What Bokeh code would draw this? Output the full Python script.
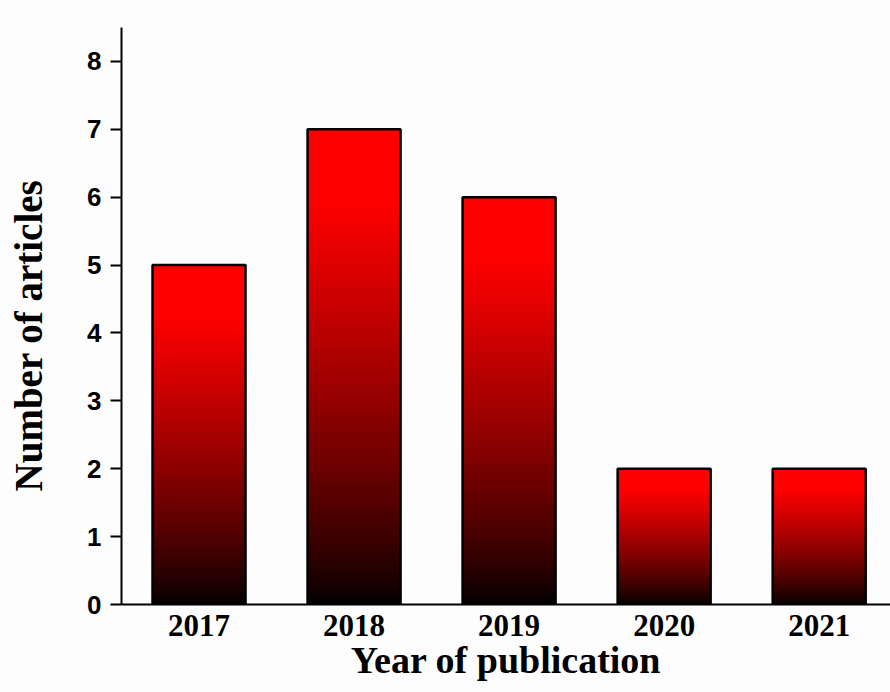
from bokeh.plotting import figure
from bokeh.models import Range1d, FixedTicker
from bokeh.embed import file_html
from bokeh.resources import INLINE

# Data
years = ["2017", "2018", "2019", "2020", "2021"]
articles = [5, 7, 6, 2, 2]
y_ticks = [0, 1, 2, 3, 4, 5, 6, 7, 8]

x_pos = list(range(len(years)))
BAR_W = 0.6
N_SLICES = 140

p = figure(width=890, height=692, output_backend="svg", toolbar_location=None,
           x_range=Range1d(-0.5, 4.46), y_range=Range1d(0, 8.5),
           min_border_left=121, min_border_top=27, min_border_bottom=88,
           min_border_right=0)
p.background_fill_color = "#FDFDFD"
p.border_fill_color = "#FDFDFD"
p.outline_line_color = None
p.xgrid.visible = False
p.ygrid.visible = False

# gradient fill: each slice from its start to bar top, drawn bottom-up (no seams)
xs, bots, tops, cols = [], [], [], []
for xi, v in zip(x_pos, articles):
    for k in range(N_SLICES):
        f = (k + 0.5) / N_SLICES
        r = int(round(255 * min(1.0, f / 0.85) ** 0.8))
        xs.append(xi)
        bots.append(v * k / N_SLICES)
        tops.append(v)
        cols.append("#%02x0000" % r)
p.vbar(x=xs, bottom=bots, top=tops, width=BAR_W, fill_color=cols, line_color=None)
p.vbar(x=x_pos, bottom=0, top=articles, width=BAR_W, fill_color=None,
       line_color="black", line_width=2.5)

# x axis
xa = p.xaxis[0]
xa.ticker = FixedTicker(ticks=x_pos)
xa.major_label_overrides = {i: y for i, y in zip(x_pos, years)}
xa.major_tick_line_color = None
xa.major_tick_out = 0
xa.major_tick_in = 0
xa.minor_tick_line_color = None
xa.axis_line_width = 2
xa.axis_line_color = "black"
xa.major_label_text_font = "Liberation Serif"
xa.major_label_text_font_style = "bold"
xa.major_label_text_font_size = "31px"
xa.major_label_text_color = "black"
xa.major_label_standoff = 10
xa.axis_label = "Year of publication"
xa.axis_label_text_font = "Liberation Serif"
xa.axis_label_text_font_style = "bold"
xa.axis_label_text_font_size = "38px"
xa.axis_label_text_color = "black"
xa.axis_label_standoff = 0

# y axis
ya = p.yaxis[0]
ya.ticker = FixedTicker(ticks=y_ticks)
ya.major_tick_out = 11
ya.major_tick_in = 0
ya.major_tick_line_width = 2
ya.minor_tick_line_color = None
ya.axis_line_width = 2
ya.axis_line_color = "black"
ya.major_label_text_font = "Liberation Sans"
ya.major_label_text_font_style = "bold"
ya.major_label_text_font_size = "26px"
ya.major_label_text_color = "black"
ya.major_label_standoff = 9
ya.axis_label = "Number of articles\u00a0\u00a0\u00a0\u00a0"
ya.axis_label_text_font = "Liberation Serif"
ya.axis_label_text_font_style = "bold"
ya.axis_label_text_font_size = "39px"
ya.axis_label_text_color = "black"
ya.axis_label_standoff = 34

open("out.html", "w").write(file_html(p, INLINE))
